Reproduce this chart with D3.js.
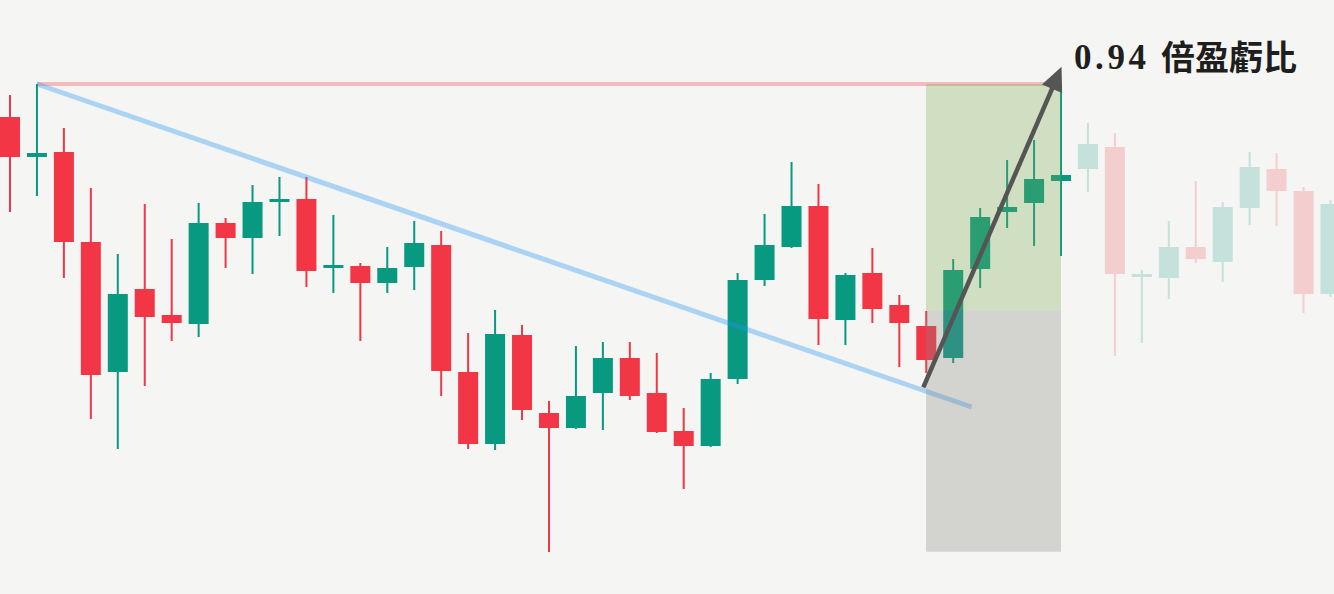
<!DOCTYPE html>
<html>
<head>
<meta charset="utf-8">
<script src="https://cdn.jsdelivr.net/npm/d3@7"></script>
<style>
  html, body { margin: 0; padding: 0; background: #f5f5f3; }
  svg { display: block; }
</style>
</head>
<body>
<svg id="chart" width="1334" height="594"></svg>
<script>
// ---- data ----
const opens  = [483,443,448,358,228,311,285,276,377,362,399,401,333,334,317,333,355,228,156,265,187,172,207,242,207,169,154,221,320,353,394,280,327,295,274,242,331,388,397,419, 431,453,325,322,353,338,392,431,409,306];
const highs  = [505,516,472,412,346,396,361,397,382,415,423,423,385,337,353,379,369,267,290,275,199,254,258,258,247,192,227,327,386,438,416,327,352,305,289,341,392,440,460,516, 477,467,330,379,419,398,448,447,413,400];
const lows   = [388,404,322,181,151,214,259,263,332,326,364,313,307,259,307,310,204,151,150,180, 48,171,170,200,167,111,153,216,314,352,255,255,277,233,227,237,312,372,354,344, 408,244,257,301,337,318,375,374,287,303];
const closes = [443,447,358,225,306,283,277,377,362,398,401,329,335,317,332,357,229,156,266,190,172,204,242,204,168,154,221,320,355,394,281,325,291,277,240,330,383,393,421,425, 456,326,326,353,341,393,433,409,306,396];
const futureStart = 40;           // candles from this index on are shown faded

// annotation levels (price units) and index positions
const resistanceLevel = 516;
const resistanceFrom = 1, resistanceTo = 39;
const trendFrom = [1, 516], trendTo = [35.68, 193];
const entryLevel = 289.5, targetLevel = 516, stopLevel = 48.3;
const zoneFrom = 33.99, zoneTo = 39.0;
const arrowFrom = [33.89, 212.7], arrowTo = [39.02, 533.3];
const ratioLabel = "0.94 倍盈虧比";

// ---- scales ----
const W = 1334, H = 594;
const svg = d3.select("#chart");
const x = d3.scaleLinear().domain([0, opens.length - 1]).range([10, 1330.5]);
const y = d3.scaleLinear().domain([0, 600]).range([600, 0]);

const UP = "#089981", DOWN = "#f23645";
const bodyW = 20;

const candles = opens.map((o, i) => ({ i, o, h: highs[i], l: lows[i], c: closes[i] }));

svg.append("rect").attr("width", W).attr("height", H).attr("fill", "#f5f5f3");

const g = svg.append("g");
const cg = g.selectAll("g.candle").data(candles).join("g")
  .attr("class", "candle")
  .attr("opacity", d => d.i >= futureStart ? 0.2 : 1);

cg.append("line")
  .attr("x1", d => x(d.i)).attr("x2", d => x(d.i))
  .attr("y1", d => y(d.h)).attr("y2", d => y(d.l))
  .attr("stroke", d => d.c >= d.o ? UP : DOWN)
  .attr("stroke-width", 2);

cg.append("rect")
  .attr("x", d => x(d.i) - bodyW / 2)
  .attr("width", bodyW)
  .attr("y", d => Math.min(y(d.o), y(d.c)))
  .attr("height", d => Math.max(3, Math.abs(y(d.o) - y(d.c))))
  .attr("fill", d => d.c >= d.o ? UP : DOWN);

// resistance line
svg.append("line")
  .attr("x1", x(resistanceFrom)).attr("x2", x(zoneTo))
  .attr("y1", y(resistanceLevel)).attr("y2", y(resistanceLevel))
  .attr("stroke", "rgba(242,54,69,0.3)").attr("stroke-width", 4);

// trend line
svg.append("line")
  .attr("x1", x(trendFrom[0])).attr("y1", y(trendFrom[1]))
  .attr("x2", x(trendTo[0])).attr("y2", y(trendTo[1]))
  .attr("stroke", "rgba(33,150,243,0.35)").attr("stroke-width", 5);

// profit / loss zones
svg.append("rect")
  .attr("x", x(zoneFrom)).attr("width", x(zoneTo) - x(zoneFrom))
  .attr("y", y(targetLevel)).attr("height", y(entryLevel) - y(targetLevel))
  .attr("fill", "rgba(122,168,80,0.3)");
svg.append("rect")
  .attr("x", x(zoneFrom)).attr("width", x(zoneTo) - x(zoneFrom))
  .attr("y", y(entryLevel)).attr("height", y(stopLevel) - y(entryLevel))
  .attr("fill", "rgba(132,132,130,0.3)");

// arrow
const ax1 = x(arrowFrom[0]), ay1 = y(arrowFrom[1]);
const ax2 = x(arrowTo[0]), ay2 = y(arrowTo[1]);
const ang = Math.atan2(ay2 - ay1, ax2 - ax1);
const headL = 24, headW = 11;
const bx = ax2 - headL * Math.cos(ang), by = ay2 - headL * Math.sin(ang);
svg.append("line")
  .attr("x1", ax1).attr("y1", ay1).attr("x2", bx + 4 * Math.cos(ang)).attr("y2", by + 4 * Math.sin(ang))
  .attr("stroke", "#555555").attr("stroke-width", 4.5);
const px = -Math.sin(ang), py = Math.cos(ang);
svg.append("path")
  .attr("d", d3.line()([[ax2, ay2], [bx + headW * px, by + headW * py], [bx - headW * px, by - headW * py]]) + "Z")
  .attr("fill", "#555555");

// label
const [numPart, cjkPart] = ratioLabel.split(" ");
const label = svg.append("text")
  .attr("y", 68.5)
  .attr("font-weight", "bold")
  .attr("fill", "#1e1e1e");
label.append("tspan")
  .attr("x", 1074)
  .attr("font-family", "'Liberation Serif', serif")
  .attr("font-size", 35)
  .attr("letter-spacing", 3.6)
  .text(numPart);
label.append("tspan")
  .attr("x", 1161)
  .attr("font-family", "'Noto Sans CJK TC', sans-serif")
  .attr("font-size", 34)
  .attr("dy", 1)
  .text(cjkPart);
</script>
</body>
</html>
